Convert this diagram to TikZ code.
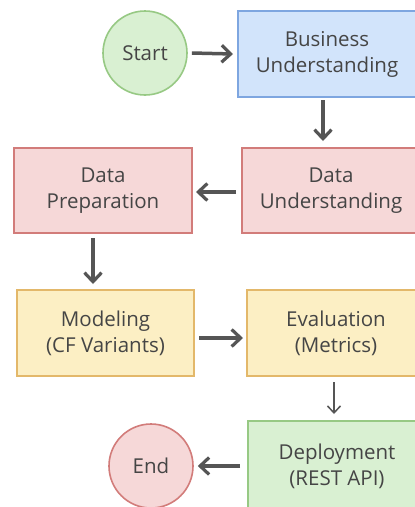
\documentclass[tikz,border=0pt]{standalone}
\usepackage{fontspec}
\setmainfont{Open Sans}
\usetikzlibrary{arrows.meta}
\definecolor{txt}{HTML}{454545}
\definecolor{arr}{HTML}{555555}
\definecolor{bfill}{HTML}{D2E4FB}
\definecolor{bdraw}{HTML}{7EA6E0}
\definecolor{rfill}{HTML}{F6D8D8}
\definecolor{rdraw}{HTML}{D27C7A}
\definecolor{yfill}{HTML}{FCEFC4}
\definecolor{ydraw}{HTML}{E3B86A}
\definecolor{gfill}{HTML}{D9F0D2}
\definecolor{gdraw}{HTML}{97C984}
\tikzset{
  box/.style={draw, line width=2pt, minimum height=85pt, align=center, text=txt,
    font=\fontsize{20.5}{26}\selectfont, inner sep=0pt},
  circ/.style={circle, draw, line width=1.6pt, minimum size=84pt, text=txt,
    font=\fontsize{20.5}{26}\selectfont, inner sep=0pt},
  bigarrow/.style={draw=arr, line width=3.5pt, -{Straight Barb[length=9pt, width=17pt, line width=3.2pt]}},
  thinarrow/.style={draw=arr, line width=1.5pt, -{Straight Barb[length=7pt, width=13pt, line width=1.5pt]}}
}
\begin{document}
\begin{tikzpicture}[x=1pt, y=-1pt]
\useasboundingbox (0,0) rectangle (415,507);
\clip (0,0) rectangle (415,507);
\fill[white] (0,0) rectangle (415,507);
\node[circ, fill=gfill, draw=gdraw] (start) at (145,53) {Start};
\node[box, fill=bfill, draw=bdraw, minimum width=178pt, minimum height=86pt, anchor=north west] (bu) at (237,10) {Business\\Understanding};
\node[box, fill=rfill, draw=rdraw, minimum width=178pt, anchor=north west] (du) at (241,147) {Data\\Understanding};
\node[box, fill=rfill, draw=rdraw, minimum width=178pt, anchor=north west] (dp) at (13,147) {Data\\Preparation};
\node[box, fill=yfill, draw=ydraw, minimum width=177pt, minimum height=86pt, anchor=north west] (mo) at (16,289) {Modeling\\(CF Variants)};
\node[box, fill=yfill, draw=ydraw, minimum width=178pt, minimum height=86pt, anchor=north west] (ev) at (246,289) {Evaluation\\(Metrics)};
\node[box, fill=gfill, draw=gdraw, minimum width=178pt, minimum height=90pt, anchor=north west] (de) at (247,420) {Deployment\\(REST API)};
\node[circ, fill=rfill, draw=rdraw] (end) at (151,466) {End};
\coordinate (bu-s) at (323,100);
\coordinate (du-n) at (323,141);
\coordinate (ev-s) at (334,382);
\coordinate (de-n) at (334,414);
\draw[bigarrow] (start.east) ++(4,0) -- ([xshift=-4pt]bu.west);
\draw[bigarrow] (bu-s) -- (du-n);
\draw[bigarrow] ([xshift=-5pt]du.west |- 0,192) -- ([xshift=3pt]dp.east |- 0,192);
\draw[bigarrow] (93,238) -- (93,284);
\draw[bigarrow] ([xshift=4pt]mo.east |- 0,338) -- ([xshift=-3pt]ev.west |- 0,338);
\draw[thinarrow] (ev-s) -- (de-n);
\draw[bigarrow] ([xshift=-7pt]de.west |- end) -- ([xshift=4pt]end.east);
\end{tikzpicture}
\end{document}
